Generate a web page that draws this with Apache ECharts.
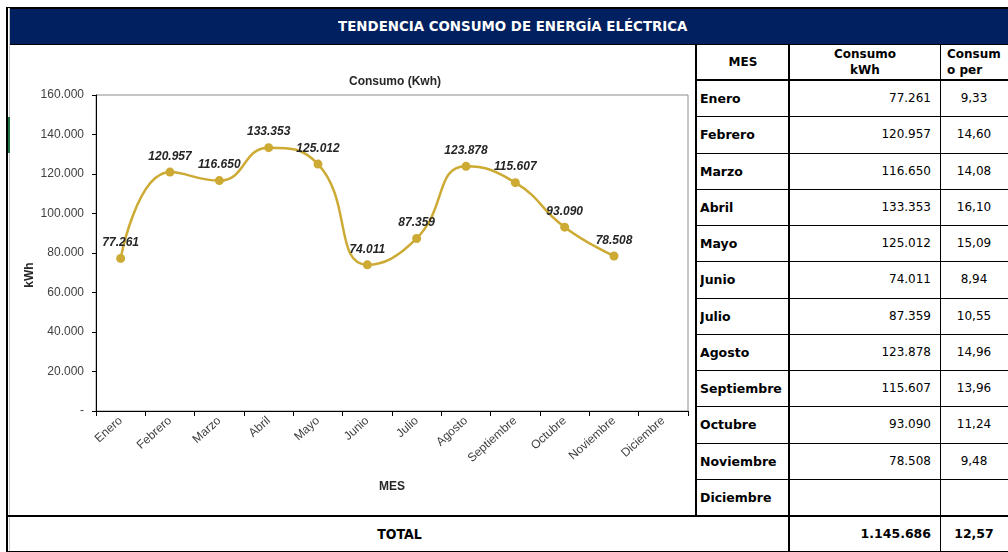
<!DOCTYPE html>
<html>
<head>
<meta charset="utf-8">
<script src="https://cdn.jsdelivr.net/npm/echarts@6/dist/echarts.min.js"></script>
<style>
  body { margin: 0; width: 1008px; height: 552px; overflow: hidden; background: #fff; position: relative; }
  .abs { position: absolute; box-sizing: border-box; }
  .line { position: absolute; background: #000; }
  .cell { position: absolute; font-family: 'DejaVu Sans', sans-serif; font-size: 12px; color: #000; white-space: nowrap; overflow: hidden; }
  .b { font-weight: bold; }
</style>
</head>
<body>
<div class="line" style="left:6px;top:7px;width:2px;height:545px;"></div>
<div class="line" style="left:6px;top:7px;width:1002px;height:1px;"></div>
<div class="abs" style="left:9px;top:8px;width:1px;height:544px;background:#c8c8c8;"></div>
<div class="abs" style="left:8px;top:117px;width:2px;height:36px;background:#217346;"></div>
<div id="header" class="abs" style="left:10px;top:8px;width:998px;height:37px;background:#002060;border-top:1px solid #000;border-bottom:1px solid #000;
  color:#fff;font-family:'Liberation Sans Narrow','DejaVu Sans Condensed',sans-serif;font-weight:bold;font-size:13.5px;text-align:center;line-height:35px;">
  <span style="display:inline-block;position:relative;left:4px;transform:scaleX(1.1);">TENDENCIA CONSUMO DE ENERGÍA ELÉCTRICA</span>
</div>
<div id="chart" class="abs" style="left:11px;top:45px;width:684px;height:470px;"></div>
<div id="table"></div>

<script>
const MONTHS = ['Enero', 'Febrero', 'Marzo', 'Abril', 'Mayo', 'Junio', 'Julio', 'Agosto', 'Septiembre', 'Octubre', 'Noviembre', 'Diciembre'];
const CONSUMO_KWH = [77261, 120957, 116650, 133353, 125012, 74011, 87359, 123878, 115607, 93090, 78508, null];
const CONSUMO_PER = ['9,33', '14,60', '14,08', '16,10', '15,09', '8,94', '10,55', '14,96', '13,96', '11,24', '9,48', ''];
const TOTAL_KWH = '1.145.686';
const TOTAL_PER = '12,57';

function fmt(v) {
  return String(v).replace(/\B(?=(\d{3})+(?!\d))/g, '.');
}

// ---- table (HTML) ----
const table = document.getElementById('table');
function add(cls, style, text) {
  const d = document.createElement('div');
  d.className = cls;
  d.style.cssText = style;
  if (text !== undefined) d.textContent = text;
  table.appendChild(d);
  return d;
}

const top0 = 45, headH = 35, rowH = 36.25;
const xL = 695, xM = 789, xC = 940, xR = 1008;

// header cells
add('cell b', `left:${xL + 2}px;top:${top0}px;width:${xM - xL - 2}px;height:${headH}px;line-height:${headH}px;text-align:center;`, 'MES');
const h2 = add('cell b', `left:${xM + 1}px;top:${top0 + 1}px;width:${xC - xM - 1}px;height:${headH}px;line-height:16px;text-align:center;font-size:12px;white-space:normal;`);
h2.innerHTML = 'Consumo<br>kWh';
const h3 = add('cell b', `left:${xC + 7}px;top:${top0 + 1}px;width:${xR - xC - 7}px;height:${headH}px;line-height:16px;text-align:left;font-size:12px;white-space:normal;`);
h3.innerHTML = 'Consum<br>o per';

MONTHS.forEach((m, i) => {
  const y = top0 + headH + i * rowH;
  add('cell b', `left:${xL + 5}px;top:${y}px;width:${xM - xL - 5}px;height:${rowH}px;line-height:${rowH + 1}px;font-size:12.5px;`, m);
  add('cell', `left:${xM}px;top:${y}px;width:${xC - xM - 9}px;height:${rowH}px;line-height:${rowH + 1}px;text-align:right;`,
    CONSUMO_KWH[i] == null ? '' : fmt(CONSUMO_KWH[i]));
  add('cell', `left:${xC}px;top:${y}px;width:${xR - xC}px;height:${rowH}px;line-height:${rowH + 1}px;text-align:center;`, CONSUMO_PER[i]);
  add('line', `left:${xL}px;top:${Math.round(y + rowH)}px;width:${xR - xL}px;height:1px;`);
});

// total row
const yT = 516, hT = 36;
add('cell b', `left:10px;top:${yT}px;width:${xM - 10}px;height:${hT}px;line-height:${hT}px;text-align:center;font-family:'Liberation Sans Narrow','DejaVu Sans Condensed',sans-serif;font-size:14px;`, 'TOTAL');
add('cell b', `left:${xM}px;top:${yT}px;width:${xC - xM - 9}px;height:${hT}px;line-height:${hT}px;text-align:right;font-size:12.5px;`, TOTAL_KWH);
add('cell b', `left:${xC}px;top:${yT}px;width:${xR - xC}px;height:${hT}px;line-height:${hT}px;text-align:center;font-size:12.5px;`, TOTAL_PER);

// table lines
add('line', `left:${xL}px;top:${top0}px;width:2px;height:${yT - top0}px;`);
add('line', `left:${xM - 1}px;top:${top0}px;width:2px;height:${552 - top0}px;`);
add('line', `left:${xC}px;top:${top0}px;width:1px;height:${552 - top0}px;`);
add('line', `left:${xL}px;top:${top0 + headH - 1}px;width:${xR - xL}px;height:2px;`);
add('line', `left:8px;top:${yT - 1}px;width:${1008 - 8}px;height:2px;`);
add('line', `left:8px;top:551px;width:${1008 - 8}px;height:1px;`);

// ---- chart ----
const chart = echarts.init(document.getElementById('chart'));
const FONT = "'Liberation Sans', Arial, sans-serif";

chart.setOption({
  animation: false,
  title: {
    text: 'Consumo (Kwh)',
    left: 379,
    top: 26,
    textAlign: 'center',
    textStyle: { fontFamily: FONT, fontSize: 12, fontWeight: 'bold', color: '#262626' }
  },
  graphic: [
    {
      type: 'text',
      x: 19,
      y: 230,
      rotation: Math.PI / 2,
      style: { text: 'kWh', font: `bold 12px ${FONT}`, fill: '#262626', textAlign: 'center', textVerticalAlign: 'middle' }
    }
  ],
  grid: {
    left: 85,
    top: 50,
    width: 592,
    height: 316,
    show: true,
    borderColor: '#8c8c8c',
    borderWidth: 1
  },
  xAxis: {
    type: 'category',
    data: MONTHS,
    boundaryGap: true,
    name: 'MES',
    nameLocation: 'middle',
    nameGap: 70,
    nameTextStyle: { fontFamily: FONT, fontSize: 12, fontWeight: 'bold', color: '#262626' },
    axisLine: { lineStyle: { color: '#000', width: 1 } },
    axisTick: { show: true, length: 5, lineStyle: { color: '#000' } },
    axisLabel: { rotate: 42, fontFamily: FONT, fontSize: 12, color: '#404040', margin: 8, interval: 0 },
    splitLine: { show: false }
  },
  yAxis: {
    type: 'value',
    min: 0,
    max: 160000,
    interval: 20000,
    axisLine: { show: true, lineStyle: { color: '#000', width: 1 } },
    axisTick: { show: true, length: 4, lineStyle: { color: '#000' } },
    axisLabel: {
      fontFamily: FONT,
      fontSize: 12,
      color: '#404040',
      margin: 12,
      formatter: v => (v === 0 ? '-' : fmt(v))
    },
    splitLine: { show: false }
  },
  series: [
    {
      name: 'Consumo (Kwh)',
      type: 'line',
      data: CONSUMO_KWH,
      smooth: 0.5,
      symbol: 'circle',
      symbolSize: 9,
      lineStyle: { color: '#CCAA33', width: 2.5 },
      itemStyle: { color: '#CCAA33' },
      label: {
        show: true,
        position: 'top',
        distance: 5,
        fontFamily: FONT,
        fontSize: 12,
        fontWeight: 'bold',
        fontStyle: 'italic',
        color: '#262626',
        formatter: p => (p.value == null ? '' : fmt(p.value))
      }
    }
  ]
});
</script>
</body>
</html>
